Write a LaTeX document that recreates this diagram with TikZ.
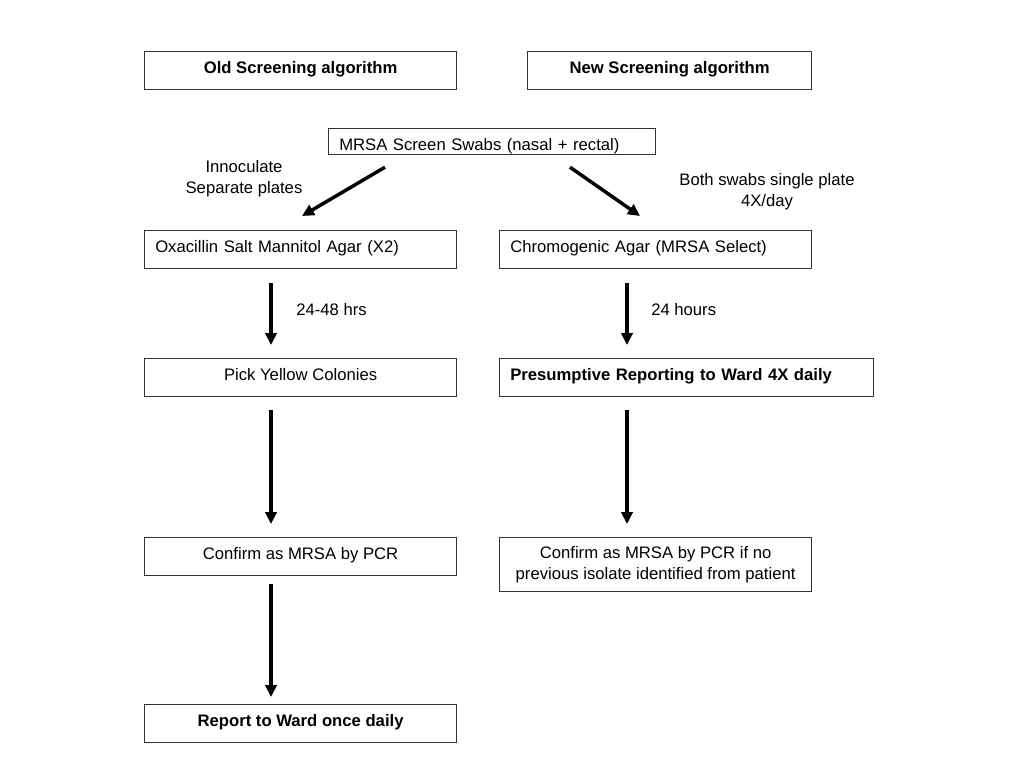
\documentclass[tikz,border=0pt]{standalone}
\usepackage{fontspec}
\setmainfont{Liberation Sans}
\usetikzlibrary{arrows.meta,calc}
\begin{document}
\begin{tikzpicture}[x=0.75pt,y=-0.75pt,
  base/.style={font=\fontsize{12.5}{15.75}\selectfont},
  bbase/.style={font=\fontsize{12.5}{15.75}\selectfont\bfseries},
  box/.style={base, draw=black!80, line width=0.9pt, inner sep=0pt, anchor=north west,
    text height=16.5pt, text depth=12pt},
  cbox/.style={box, minimum width=#1*0.75pt},
  lbox/.style={box, inner xsep=8pt, text width=#1*0.75pt-16pt, align=left},
  lbl/.style={base, inner sep=0pt, align=center},
  arr/.style={line width=2.6pt, -{Triangle[length=9pt,width=8.5pt]}}]
\useasboundingbox (0,0) rectangle (1024,768);

% headers
\node[cbox=312, bbase] (old) at (144,51) {Old Screening algorithm};
\node[cbox=284, bbase] (new) at (527,51) {New Screening algorithm};

% swabs
\node[lbox=327, text depth=3pt] (swab) at (328,128) {MRSA Screen Swabs (nasal + rectal)};

% old column
\node[lbox=312] (ox) at (144,230) {Oxacillin Salt Mannitol Agar (X2)};
\node[cbox=312] (pick) at (144,358) {Pick Yellow Colonies};
\node[cbox=312] (conf) at (144,537) {Confirm as MRSA by PCR};
\node[cbox=312, bbase] (rep) at (144,704) {Report to Ward once daily};

% new column
\node[lbox=312] (chromo) at (499,230) {Chromogenic Agar (MRSA Select)};
\node[lbox=374, bbase] (pres) at (499,358) {Presumptive Reporting to Ward 4X daily};
\node[base, draw=black!80, line width=0.9pt, inner sep=0pt, anchor=north west,
  minimum width=312*0.75pt, minimum height=54*0.75pt, align=center] (confn) at (499,537)
  {Confirm as MRSA by PCR if no\\previous isolate identified from patient};

% labels
\node[lbl] (lin) at (244,179) {Innoculate\\Separate plates};
\node[lbl] (lboth) at (767,192) {Both swabs single plate\\4X/day};
\node[lbl, anchor=west] (l2448) at (296,310) {24-48 hrs};
\node[lbl, anchor=west] (l24) at (651,310) {24 hours};

% arrows
\draw[arr] ($(swab.south west)+(57,12)$) -- ($(ox.north west)+(158,-14)$);
\draw[arr] ($(swab.south west)+(242,12)$) -- ($(chromo.north west)+(141,-14)$);
\draw[arr] ($(ox.south west)+(127,14)$) -- ($(pick.north west)+(127,-13)$);
\draw[arr] ($(pick.south west)+(127,13)$) -- ($(conf.north west)+(127,-13)$);
\draw[arr] ($(conf.south west)+(127,8)$) -- ($(rep.north west)+(127,-7)$);
\draw[arr] ($(chromo.south west)+(128,14)$) -- ($(pres.north west)+(128,-13)$);
\draw[arr] ($(pres.south west)+(128,13)$) -- ($(confn.north west)+(128,-13)$);
\end{tikzpicture}
\end{document}
